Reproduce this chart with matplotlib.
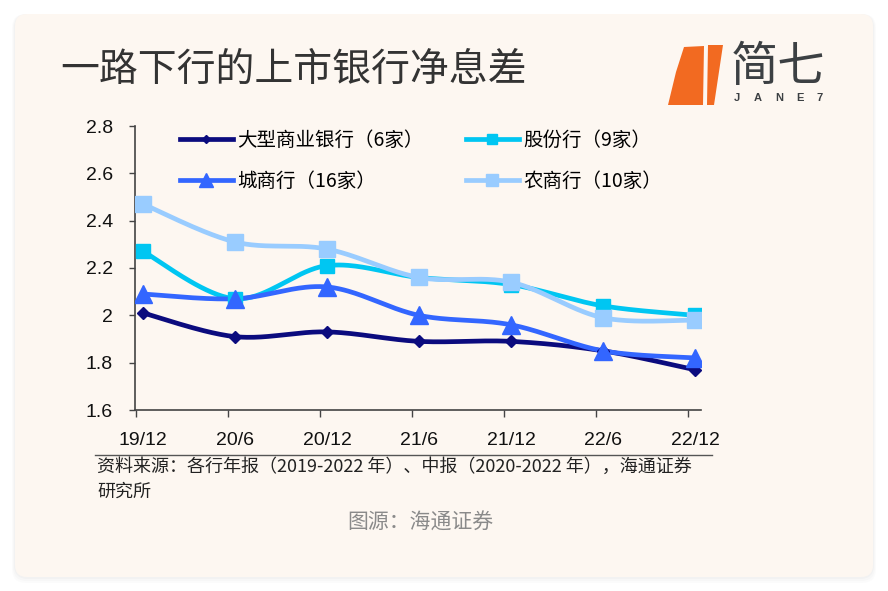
import numpy as np
import matplotlib.pyplot as plt
from matplotlib.patches import FancyBboxPatch, Polygon
from matplotlib.lines import Line2D

plt.rcParams['font.family'] = ['Liberation Sans', 'Noto Sans CJK SC', 'DejaVu Sans']

# data
periods = ["19/12", "20/6", "20/12", "21/6", "21/12", "22/6", "22/12"]
big_banks = [2.01, 1.91, 1.93, 1.89, 1.89, 1.85, 1.77]
joint_stock = [2.27, 2.07, 2.21, 2.16, 2.13, 2.04, 2.00]
city_banks = [2.09, 2.07, 2.12, 2.00, 1.96, 1.85, 1.82]
rural_banks = [2.47, 2.31, 2.28, 2.16, 2.14, 1.99, 1.98]
names = ["大型商业银行（6家）", "股份行（9家）", "城商行（16家）", "农商行（10家）"]
y_ticks = [1.6, 1.8, 2.0, 2.2, 2.4, 2.6, 2.8]
y_tick_labels = ["1.6", "1.8", "2", "2.2", "2.4", "2.6", "2.8"]

W, H = 888, 591


def smooth(x, y, n=40):
    # excel-like smoothed line: bezier through points, catmull-rom control points
    pts = np.column_stack([x, y]).astype(float)
    P = np.vstack([pts[0], pts, pts[-1]])
    out = []
    t = np.linspace(0, 1, n)[:, None]
    for i in range(1, len(P) - 2):
        p0, p1, p2, p3 = P[i - 1], P[i], P[i + 1], P[i + 2]
        c1 = p1 + (p2 - p0) / 6
        c2 = p2 - (p3 - p1) / 6
        seg = (1 - t) ** 3 * p1 + 3 * (1 - t) ** 2 * t * c1 + 3 * (1 - t) * t ** 2 * c2 + t ** 3 * p2
        out.append(seg if i == 1 else seg[1:])
    return np.vstack(out)


fig = plt.figure(figsize=(W / 100, H / 100), dpi=100, facecolor='white')

# card with soft shadow (pixel coords)
for k, a in [(6, 0.03), (4, 0.04), (2, 0.05)]:
    fig.patches.append(FancyBboxPatch((15 - k / 2, 14 - k), 858 + k, 563 + k,
                                      boxstyle="round,pad=0,rounding_size=14",
                                      transform=None, fc='#999999', ec='none', alpha=a,
                                      zorder=-10))
fig.patches.append(FancyBboxPatch((15, 14), 858, 563, boxstyle="round,pad=0,rounding_size=12",
                                  transform=None, fc='#FDF7F1', ec='none', zorder=-9))

# title
fig.text(60 / W, 1 - 70 / H, "一路下行的上市银行净息差", fontsize=28, color='#333333',
         family=['Noto Sans CJK SC'], va='center', ha='left')

# logo
fig.patches.append(Polygon([(684, H - 47), (704, H - 46), (703, H - 105), (668, H - 105), (676, H - 72)],
                           closed=True, transform=None, fc='#F26A21', ec='none'))
fig.patches.append(Polygon([(708, H - 45), (723, H - 45), (714, H - 105), (707, H - 105)],
                           closed=True, transform=None, fc='#F26A21', ec='none'))
fig.text(778 / W, 1 - 68 / H, "简七", fontsize=34, color='#3C4043',
         family=['Noto Sans CJK SC'], va='center', ha='center')
for ch, xp in zip("JANE7", [737, 758, 779, 800, 820]):
    fig.text(xp / W, 1 - 98 / H, ch, fontsize=8, color='#3C4043', fontweight='bold',
             va='center', ha='center')

# chart
ax = fig.add_axes([135 / W, 1 - 410 / H, (701 - 135) / W, (410 - 126) / H])
ax.set_facecolor('none')
x = np.arange(len(periods))

series = [
    (big_banks, '#0B0B7E', 'D', 6),
    (joint_stock, '#00C6F2', 's', 10),
    (city_banks, '#3366FF', '^', 13),
    (rural_banks, '#99CCFF', 's', 12),
]
handles = []
for (vals, col, mk, ms), name in zip(series, names):
    curve = smooth(x, vals)
    ax.plot(curve[:, 0], curve[:, 1], color=col, lw=3.4, solid_capstyle='round', zorder=2)
    ax.plot(x, vals, ls='none', marker=mk, ms=ms, color=col, zorder=3)
    handles.append(Line2D([], [], color=col, lw=3.4, marker=mk, ms=ms * 0.75))

ax.set_xlim((135 - 143) / 92, (701 - 143) / 92)
ax.set_ylim(1.6, 2.8)
ax.set_yticks(y_ticks)
ax.set_yticklabels(y_tick_labels)
ax.set_xticks(x)
ax.set_xticklabels(periods)
ax.set_xticks(x - 7 / 92, minor=True)
ax.tick_params(axis='x', which='major', length=0, pad=16, labelsize=14, colors='#111111')
ax.tick_params(axis='x', which='minor', length=5, width=1, direction='out', color='#444444')
ax.tick_params(axis='y', length=4, width=1, direction='out', pad=12, labelsize=14,
               colors='#111111', color='#444444')
for s in ['top', 'right']:
    ax.spines[s].set_visible(False)
for s in ['left', 'bottom']:
    ax.spines[s].set_color('#444444')
    ax.spines[s].set_linewidth(1.2)

leg_kw = dict(frameon=False, handlelength=2.7, handletextpad=0.25, labelspacing=1.0,
              prop={'family': ['Noto Sans CJK SC'], 'size': 14}, borderaxespad=0,
              borderpad=0, numpoints=1)
leg1 = ax.legend([handles[0], handles[2]], [names[0], names[2]], loc='upper left',
                 bbox_to_anchor=((180 - 135) / 566, 1 - (130 - 126) / 284), **leg_kw)
ax.add_artist(leg1)
ax.legend([handles[1], handles[3]], [names[1], names[3]], loc='upper left',
          bbox_to_anchor=((466 - 135) / 566, 1 - (130 - 126) / 284), **leg_kw)

# source note
fig.add_artist(Line2D([95 / W, 712 / W], [1 - 455 / H, 1 - 455 / H], color='#555555', lw=1))
fig.text(97 / W, 1 - 467 / H, "资料来源：各行年报（2019-2022 年）、中报（2020-2022 年），海通证券",
         fontsize=13, color='#222222', family=['Noto Sans CJK SC'], va='center', ha='left')
fig.text(97 / W, 1 - 492 / H, "研究所", fontsize=13, color='#222222',
         family=['Noto Sans CJK SC'], va='center', ha='left')
fig.text(420 / W, 1 - 523 / H, "图源：海通证券", fontsize=15, color='#8A8A8A',
         family=['Noto Sans CJK SC'], va='center', ha='center')

fig.savefig('out.png', dpi=100, facecolor='white')
